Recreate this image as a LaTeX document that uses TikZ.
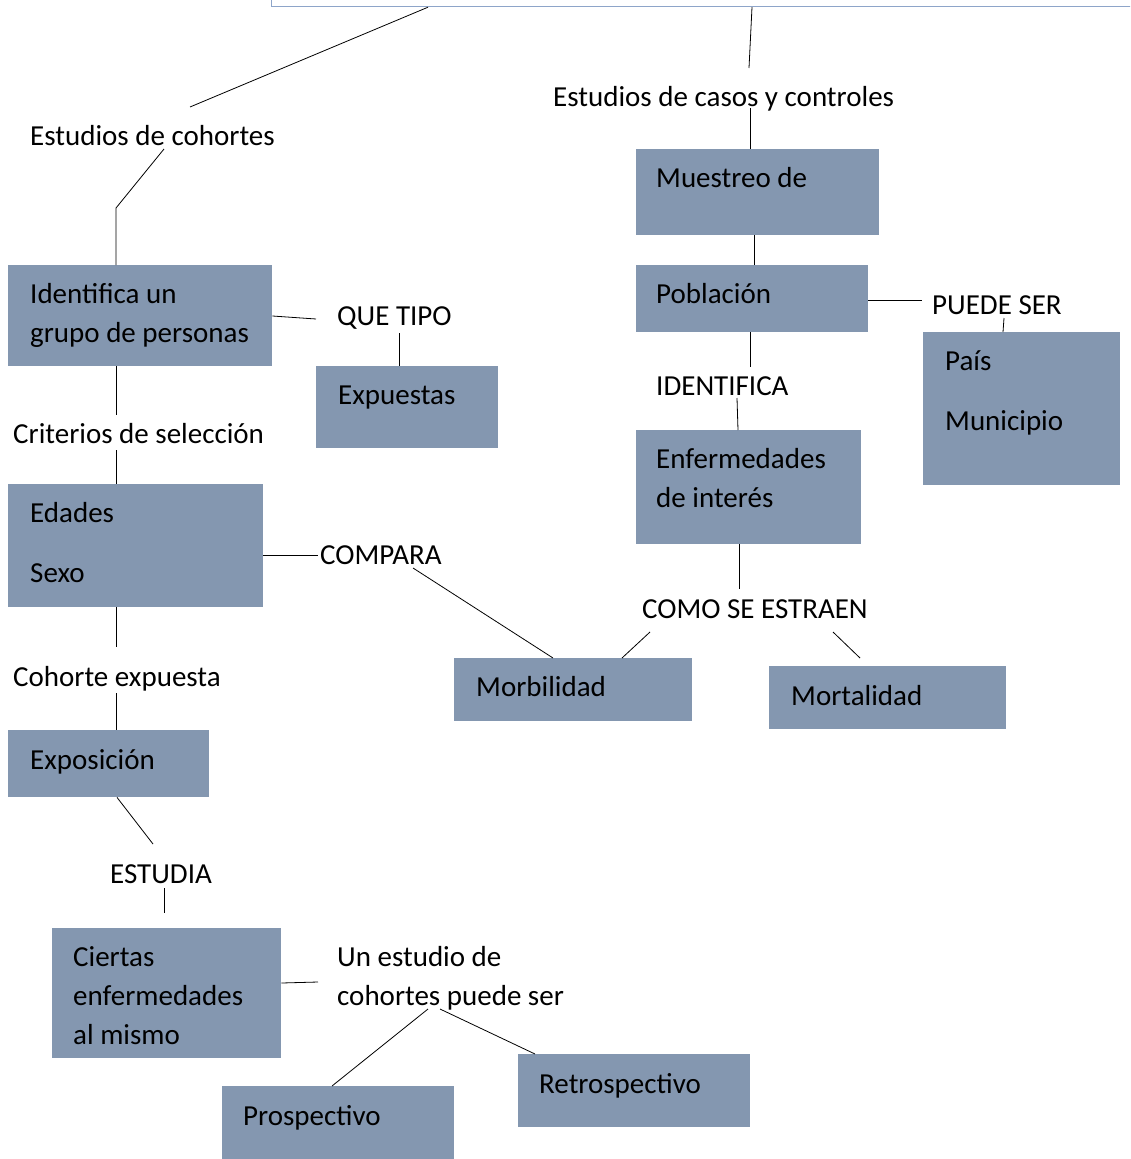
\documentclass[tikz,border=0pt]{standalone}
\usepackage{fontspec}
\setmainfont{Carlito}
\usetikzlibrary{positioning}
\definecolor{CajaGris}{HTML}{8497B0}
\definecolor{BordeAzul}{HTML}{8EA5C9}

\begin{document}
\begin{tikzpicture}[x=1pt,y=-1pt,
    caja/.style={anchor=north west,fill=CajaGris,inner sep=0pt},
    texto/.style={anchor=base west,inner sep=0pt,font=\fontsize{29}{39}\selectfont},
    bloque/.style={texto,text width=#1,align=flush left},
    enlace/.style={draw=black,line width=0.8pt}]
    \useasboundingbox (0,0) rectangle (1130,1159);
    \clip (0,0) rectangle (1130,1159);

    % Cuadro superior (cortado)
    \node[anchor=north west,draw=BordeAzul,line width=1.2pt,fill=white,
          minimum width=900,minimum height=46,inner sep=0pt] (tema) at (271,-40) {};

    % Rama derecha: casos y controles
    \node[texto] (casos) at (553,106) {Estudios de casos y controles};
    \node[caja,minimum width=243,minimum height=86] (muestreo) at (636,149) {};
    \node[texto] (muestreo-t) at (656,187) {Muestreo de};
    \node[caja,minimum width=232,minimum height=67] (poblacion) at (636,265) {};
    \node[texto] (poblacion-t) at (656,303) {Población};
    \node[texto] (puede) at (932,314) {PUEDE SER};
    \node[caja,minimum width=197,minimum height=153] (pais) at (923,332) {};
    \node[bloque=170] (pais-t) at (945,370) {País\\[21pt]Municipio};
    \node[texto] (identifica) at (656,395) {IDENTIFICA};
    \node[caja,minimum width=225,minimum height=114] (enfermedades) at (636,430) {};
    \node[bloque=200] (enfermedades-t) at (656,468) {Enfermedades\\de interés};
    \node[texto] (como) at (642,618) {COMO SE ESTRAEN};
    \node[caja,minimum width=238,minimum height=63] (morbilidad) at (454,658) {};
    \node[texto] (morbilidad-t) at (476,696) {Morbilidad};
    \node[caja,minimum width=237,minimum height=63] (mortalidad) at (769,666) {};
    \node[texto] (mortalidad-t) at (791,705) {Mortalidad};

    % Rama izquierda: cohortes
    \node[texto] (cohortes) at (30,145) {Estudios de cohortes};
    \node[caja,minimum width=264,minimum height=101] (identgrupo) at (8,265) {};
    \node[bloque=240] (identgrupo-t) at (30,303) {Identifica un\\grupo de personas};
    \node[texto] (quetipo) at (337,325) {QUE TIPO};
    \node[caja,minimum width=182,minimum height=82] (expuestas) at (316,366) {};
    \node[texto] (expuestas-t) at (338,404) {Expuestas};
    \node[texto] (criterios) at (13,443) {Criterios de selección};
    \node[caja,minimum width=255,minimum height=123] (edades) at (8,484) {};
    \node[bloque=220] (edades-t) at (30,522) {Edades\\[21pt]Sexo};
    \node[texto] (compara) at (320,564) {COMPARA};
    \node[texto] (cohexp) at (13,686) {Cohorte expuesta};
    \node[caja,minimum width=201,minimum height=67] (exposicion) at (8,730) {};
    \node[texto] (exposicion-t) at (30,769) {Exposición};
    \node[texto] (estudia) at (110,883) {ESTUDIA};
    \node[caja,minimum width=229,minimum height=130] (ciertas) at (52,928) {};
    \node[bloque=200] (ciertas-t) at (73,966) {Ciertas\\enfermedades\\al mismo};
    \node[bloque=260] (unestudio) at (337,966) {Un estudio de\\cohortes puede ser};
    \node[caja,minimum width=232,minimum height=90] (prospectivo) at (222,1086) {};
    \node[texto] (prospectivo-t) at (243,1125) {Prospectivo};
    \node[caja,minimum width=232,minimum height=73] (retrospectivo) at (518,1054) {};
    \node[texto] (retrospectivo-t) at (539,1093) {Retrospectivo};

    % Conectores derecha
    \draw[enlace] ([shift={(481,0)}]tema.south west) -- ([shift={(196,-38)}]casos.base west);
    \draw[enlace] ([shift={(197,2)}]casos.base west) -- ([shift={(114,0)}]muestreo.north west);
    \draw[enlace] ([shift={(118,0)}]muestreo.south west) -- ([shift={(118,0)}]poblacion.north west);
    \draw[enlace] ([shift={(0,35)}]poblacion.north east) -- ([shift={(-10,-14)}]puede.base west);
    \draw[enlace] ([shift={(72,4)}]puede.base west) -- ([shift={(80,0)}]pais.north west);
    \draw[enlace] ([shift={(114,0)}]poblacion.south west) -- ([shift={(94,-28)}]identifica.base west);
    \draw[enlace] ([shift={(81,3)}]identifica.base west) -- ([shift={(102,0)}]enfermedades.north west);
    \draw[enlace] ([shift={(103,0)}]enfermedades.south west) -- ([shift={(97,-29)}]como.base west);
    \draw[enlace] ([shift={(8,14)}]como.base west) -- ([shift={(168,0)}]morbilidad.north west);
    \draw[enlace] ([shift={(191,14)}]como.base west) -- ([shift={(91,-8)}]mortalidad.north west);

    % Conectores izquierda
    \draw[enlace] ([shift={(157,0)}]tema.south west) -- ([shift={(160,-38)}]cohortes.base west);
    \draw[enlace] ([shift={(134,4)}]cohortes.base west) -- ++(-48,59) -- ([shift={(108,0)}]identgrupo.north west);
    \draw[enlace] ([shift={(0,51)}]identgrupo.north east) -- ([shift={(-21,-6)}]quetipo.base west);
    \draw[enlace] ([shift={(62,8)}]quetipo.base west) -- ([shift={(83,0)}]expuestas.north west);
    \draw[enlace] ([shift={(108,0)}]identgrupo.south west) -- ([shift={(103,-28)}]criterios.base west);
    \draw[enlace] ([shift={(103,7)}]criterios.base west) -- ([shift={(108,0)}]edades.north west);
    \draw[enlace] ([shift={(0,71)}]edades.north east) -- ([shift={(-2,-9)}]compara.base west);
    \draw[enlace] ([shift={(93,4)}]compara.base west) -- ([shift={(99,0)}]morbilidad.north west);
    \draw[enlace] ([shift={(108,0)}]edades.south west) -- ([shift={(103,-39)}]cohexp.base west);
    \draw[enlace] ([shift={(103,7)}]cohexp.base west) -- ([shift={(108,0)}]exposicion.north west);
    \draw[enlace] ([shift={(109,0)}]exposicion.south west) -- ([shift={(43,-39)}]estudia.base west);
    \draw[enlace] ([shift={(54,5)}]estudia.base west) -- ([shift={(112,-15)}]ciertas.north west);
    \draw[enlace] ([shift={(0,55)}]ciertas.north east) -- ([shift={(-19,16)}]unestudio.base west);
    \draw[enlace] ([shift={(91,43)}]unestudio.base west) -- ([shift={(110,0)}]prospectivo.north west);
    \draw[enlace] ([shift={(103,43)}]unestudio.base west) -- ([shift={(17,0)}]retrospectivo.north west);
\end{tikzpicture}
\end{document}
